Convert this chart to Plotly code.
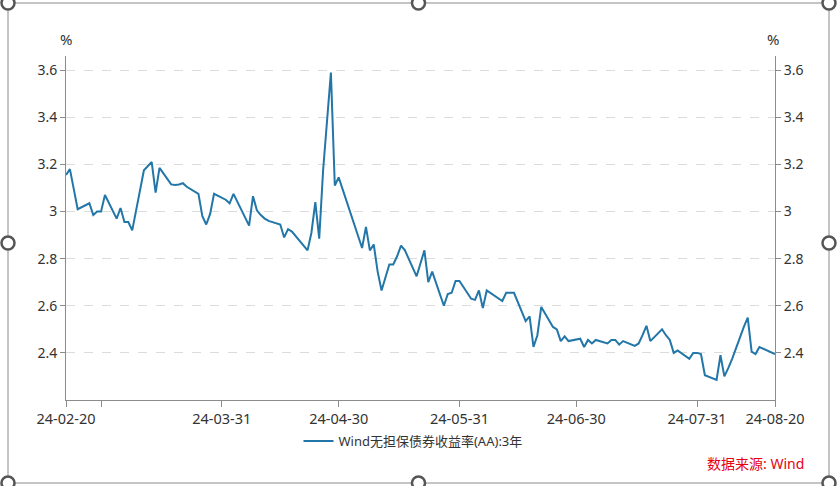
import plotly.graph_objects as go

dates = [
    "2024-02-20","2024-02-21","2024-02-22","2024-02-23","2024-02-26","2024-02-27","2024-02-28","2024-02-29",
    "2024-03-01","2024-03-04","2024-03-05","2024-03-06","2024-03-07","2024-03-08","2024-03-11","2024-03-12",
    "2024-03-13","2024-03-14","2024-03-15","2024-03-18","2024-03-19","2024-03-20","2024-03-21","2024-03-22",
    "2024-03-25","2024-03-26","2024-03-27","2024-03-28","2024-03-29",
    "2024-04-01","2024-04-02","2024-04-03","2024-04-07","2024-04-08","2024-04-09","2024-04-10","2024-04-11",
    "2024-04-12","2024-04-15","2024-04-16","2024-04-17","2024-04-18","2024-04-19","2024-04-22","2024-04-23",
    "2024-04-24","2024-04-25","2024-04-26","2024-04-28","2024-04-29","2024-04-30",
    "2024-05-06","2024-05-07","2024-05-08","2024-05-09","2024-05-10","2024-05-11","2024-05-13","2024-05-14",
    "2024-05-15","2024-05-16","2024-05-17","2024-05-20","2024-05-21","2024-05-22","2024-05-23","2024-05-24",
    "2024-05-27","2024-05-28","2024-05-29","2024-05-30","2024-05-31",
    "2024-06-03","2024-06-04","2024-06-05","2024-06-06","2024-06-07","2024-06-11","2024-06-12","2024-06-13",
    "2024-06-14","2024-06-17","2024-06-18","2024-06-19","2024-06-20","2024-06-21","2024-06-24","2024-06-25",
    "2024-06-26","2024-06-27","2024-06-28",
    "2024-07-01","2024-07-02","2024-07-03","2024-07-04","2024-07-05","2024-07-08","2024-07-09","2024-07-10",
    "2024-07-11","2024-07-12","2024-07-15","2024-07-16","2024-07-17","2024-07-18","2024-07-19","2024-07-22",
    "2024-07-23","2024-07-24","2024-07-25","2024-07-26","2024-07-29","2024-07-30","2024-07-31",
    "2024-08-01","2024-08-02","2024-08-05","2024-08-06","2024-08-07","2024-08-08","2024-08-09","2024-08-12",
    "2024-08-13","2024-08-14","2024-08-15","2024-08-16","2024-08-19","2024-08-20",
]

yield_aa_3y = [
    3.155, 3.18, 3.095, 3.01, 3.035, 2.985, 3.0, 3.0,
    3.07, 2.97, 3.015, 2.955, 2.955, 2.92, 3.175, 3.195,
    3.21, 3.08, 3.185, 3.115, 3.113, 3.115, 3.12, 3.105,
    3.075, 2.98, 2.945, 2.99, 3.075,
    3.05, 3.035, 3.075, 2.94, 3.065, 3.005, 2.985, 2.97,
    2.96, 2.945, 2.89, 2.925, 2.915, 2.895, 2.835, 2.91,
    3.04, 2.885, 3.175, 3.59, 3.11, 3.145,
    2.845, 2.935, 2.835, 2.86, 2.745, 2.665, 2.775, 2.775,
    2.81, 2.855, 2.835, 2.725, 2.78, 2.835, 2.7, 2.745,
    2.6, 2.65, 2.655, 2.705, 2.705,
    2.63, 2.625, 2.665, 2.59, 2.665, 2.62, 2.655, 2.655,
    2.655, 2.535, 2.555, 2.425, 2.475, 2.595, 2.51, 2.5,
    2.45, 2.47, 2.45,
    2.46, 2.425, 2.455, 2.44, 2.455, 2.44, 2.455, 2.455,
    2.435, 2.45, 2.43, 2.44, 2.475, 2.515, 2.45, 2.5,
    2.475, 2.455, 2.4, 2.41, 2.375, 2.4, 2.4,
    2.395, 2.305, 2.285, 2.39, 2.3, 2.335, 2.375, 2.51,
    2.55, 2.405, 2.395, 2.425, 2.40, 2.395,
]

series_name = "Wind无担保债券收益率(AA):3年"
x_tick_vals = ["2024-02-20", "2024-02-29", "2024-03-31", "2024-04-30", "2024-05-31",
               "2024-06-30", "2024-07-31", "2024-08-20"]
x_tick_text = ["24-02-20", "", "24-03-31", "24-04-30", "24-05-31", "24-06-30", "24-07-31", "24-08-20"]
y_tick_vals = [2.4, 2.6, 2.8, 3.0, 3.2, 3.4, 3.6]
y_tick_text = ["2.4", "2.6", "2.8", "3", "3.2", "3.4", "3.6"]
source_text = "数据来源: Wind"

W, H = 837, 486
L, R, T, B = 66, 837 - 775, 56, 486 - 400
PW, PH = W - L - R, H - T - B

def px(x):
    return (x - L) / PW

def py(y):
    return (H - B - y) / PH

FONT = "Noto Sans, Noto Sans CJK SC, sans-serif"
AXIS = "#8c8c8c"
LINE = "#2276a8"
TXT = "#333333"

fig = go.Figure()
fig.add_trace(go.Scatter(x=dates, y=yield_aa_3y, mode="lines", name=series_name,
                         line=dict(color=LINE, width=2), yaxis="y"))
fig.add_trace(go.Scatter(x=dates, y=yield_aa_3y, mode="lines", showlegend=False,
                         line=dict(color="rgba(0,0,0,0)", width=0), hoverinfo="skip", yaxis="y2"))

yax = dict(range=[2.2, 3.66], tickvals=y_tick_vals, ticktext=y_tick_text,
           showline=True, linecolor=AXIS, linewidth=1, ticks="outside", ticklen=5,
           tickcolor=AXIS, tickfont=dict(size=14, color=TXT, family=FONT),
           zeroline=False, fixedrange=True, automargin=False)

fig.update_layout(
    width=W, height=H, margin=dict(l=L, r=R, t=T, b=B, autoexpand=False),
    paper_bgcolor="white", plot_bgcolor="white",
    font=dict(family=FONT, color=TXT),
    xaxis=dict(type="date", range=["2024-02-20", "2024-08-20"], tickvals=x_tick_vals,
               ticktext=x_tick_text, showline=True, linecolor=AXIS, linewidth=1,
               ticks="outside", ticklen=6, tickcolor=AXIS, showgrid=False, automargin=False,
               tickfont=dict(size=14.5, color=TXT, family=FONT), zeroline=False),
    yaxis=dict(**yax, side="left", showgrid=True, gridcolor="#dcdcdc", griddash="dash", gridwidth=1),
    yaxis2=dict(**yax, side="right", overlaying="y", showgrid=False),
    legend=dict(orientation="h", x=px(413), xanchor="center", y=py(441), yanchor="middle",
                itemwidth=30, font=dict(size=13, color=TXT, family=FONT), bgcolor="rgba(0,0,0,0)"),
    showlegend=True,
)

fig.add_annotation(x=px(66), y=py(39), xref="paper", yref="paper", text="%", showarrow=False,
                   xanchor="center", yanchor="middle", font=dict(size=15, color=TXT, family=FONT))
fig.add_annotation(x=px(773), y=py(39), xref="paper", yref="paper", text="%", showarrow=False,
                   xanchor="center", yanchor="middle", font=dict(size=15, color=TXT, family=FONT))
fig.add_annotation(x=px(806), y=py(464), xref="paper", yref="paper", text=source_text,
                   showarrow=False, xanchor="right", yanchor="middle",
                   font=dict(size=14, color="#e60012", family=FONT))

# Chart frame with selection handles
fx0, fx1, fy0, fy1 = 8, 829, 3, 483
fig.add_shape(type="rect", xref="paper", yref="paper", x0=px(fx0), x1=px(fx1), y0=py(fy1), y1=py(fy0),
              line=dict(color="#8a8a8a", width=1), fillcolor="rgba(0,0,0,0)", layer="above")
hx = [fx0, (fx0 + fx1) / 2, fx1]
hy = [fy0, (fy0 + fy1) / 2, fy1]
r = 6.5
for cx in hx:
    for cy in hy:
        if cx == hx[1] and cy == hy[1]:
            continue
        fig.add_shape(type="circle", xref="paper", yref="paper",
                      x0=px(cx - r), x1=px(cx + r), y0=py(cy + r), y1=py(cy - r),
                      line=dict(color="#555555", width=2.5), fillcolor="white", layer="above")

fig.write_html("out.html", config={"displayModeBar": False},
               post_script="document.body.style.margin='0';")
